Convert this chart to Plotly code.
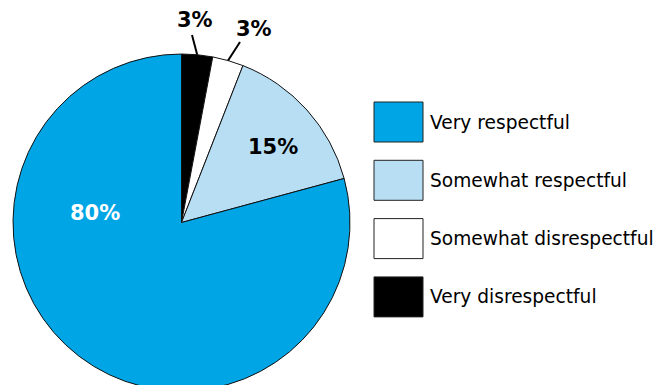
import math
import plotly.graph_objects as go

# Survey shares, in drawing order (clockwise from 12 o'clock)
categories = ["Very disrespectful", "Somewhat disrespectful", "Somewhat respectful", "Very respectful"]
shares = [3, 3, 15, 80]
slice_colors = ["#000000", "#FFFFFF", "#B8DEF4", "#00A5E5"]
legend_order = ["Very respectful", "Somewhat respectful", "Somewhat disrespectful", "Very disrespectful"]

# Page geometry (pixels)
W, H = 665, 392
CX, CY, R = 181.5, 222.5, 168.5


def px(x):
    return x / W


def py(y):
    return 1 - y / H


color_of = dict(zip(categories, slice_colors))

fig = go.Figure(
    go.Pie(
        labels=categories,
        values=shares,
        sort=False,
        direction="clockwise",
        rotation=0,
        marker=dict(colors=slice_colors, line=dict(color="#111111", width=1)),
        textinfo="none",
        hoverinfo="label+percent",
        showlegend=False,
        domain=dict(x=[px(CX - R), px(CX + R)], y=[py(CY + R), py(CY - R)]),
    )
)

# Mid-angle of each slice (degrees clockwise from top)
total = sum(shares)
mid_angle = {}
acc = 0
for name, v in zip(categories, shares):
    mid_angle[name] = (acc + v / 2) / total * 360
    acc += v

# Value labels: centre of text (pixels), text colour, optional leader end point
label_place = {
    "Very disrespectful": ((195, 20.5), "#000000", (192, 35)),
    "Somewhat disrespectful": ((253.5, 29), "#000000", (240, 42)),
    "Somewhat respectful": ((272.5, 146.5), "#000000", None),
    "Very respectful": ((95, 213), "#FFFFFF", None),
}

annotations = []
shapes = []
for name, v in zip(categories, shares):
    (tx, ty), tcol, lead = label_place[name]
    annotations.append(dict(
        x=px(tx), y=py(ty), xref="paper", yref="paper",
        text=f"<b>{v}%</b>", showarrow=False,
        xanchor="center", yanchor="middle",
        font=dict(family="DejaVu Sans", size=21, color=tcol),
    ))
    if lead is not None:
        a = math.radians(mid_angle[name])
        ex, ey = CX + R * math.sin(a), CY - R * math.cos(a)
        shapes.append(dict(
            type="line", xref="paper", yref="paper",
            x0=px(ex), y0=py(ey), x1=px(lead[0]), y1=py(lead[1]),
            line=dict(color="#000000", width=2),
        ))

# Legend: large swatches with labels
for i, name in enumerate(legend_order):
    top = 102 + i * 58.3
    shapes.append(dict(
        type="rect", xref="paper", yref="paper",
        x0=px(374), x1=px(423), y0=py(top), y1=py(top + 40),
        fillcolor=color_of[name], line=dict(color="#222222", width=1),
    ))
    annotations.append(dict(
        x=px(428), y=py(top + 20), xref="paper", yref="paper",
        text=name, showarrow=False, xanchor="left", yanchor="middle",
        font=dict(family="DejaVu Sans", size=18.6, color="#000000"),
    ))

fig.update_layout(
    width=W, height=H,
    margin=dict(l=0, r=0, t=0, b=0),
    paper_bgcolor="#FFFFFF",
    plot_bgcolor="#FFFFFF",
    annotations=annotations,
    shapes=shapes,
)

fig.write_html(
    "out.html",
    config={"displayModeBar": False},
    post_script="document.documentElement.style.overflow='hidden';document.body.style.overflow='hidden';",
)
